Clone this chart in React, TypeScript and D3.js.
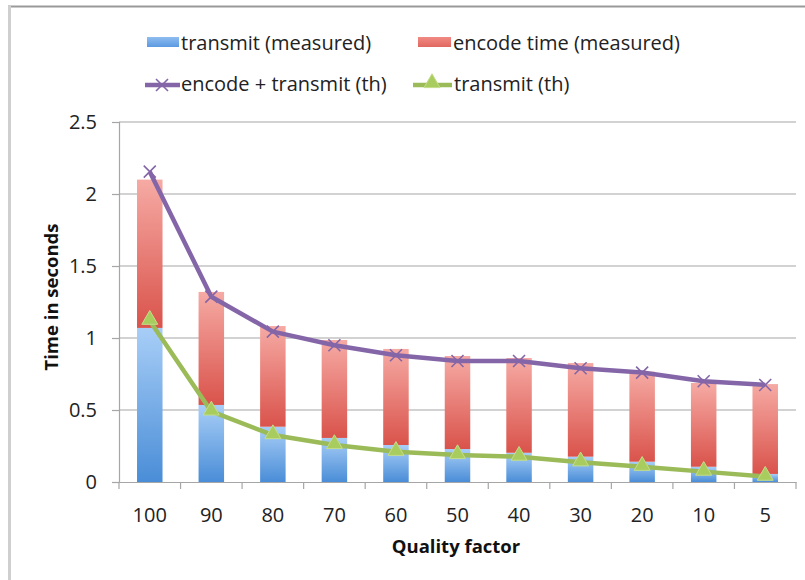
import React, { useEffect, useRef } from 'react';
import * as d3 from 'd3';

// values
const categories = ['100', '90', '80', '70', '60', '50', '40', '30', '20', '10', '5'];
const transmitMeasured = [1.07, 0.535, 0.384, 0.306, 0.257, 0.229, 0.203, 0.176, 0.141, 0.106, 0.056];
const totalMeasured = [2.1, 1.32, 1.083, 0.986, 0.924, 0.875, 0.861, 0.826, 0.766, 0.6875, 0.68];
const encodeMeasured = totalMeasured.map((t, i) => t - transmitMeasured[i]);
const encodeTransmitTh = [2.155, 1.287, 1.044, 0.95, 0.88, 0.84, 0.84, 0.79, 0.76, 0.7, 0.674];
const transmitTh = [1.12, 0.49, 0.326, 0.257, 0.21, 0.1875, 0.176, 0.137, 0.106, 0.072, 0.037];
const yTicks = [0, 0.5, 1, 1.5, 2, 2.5];

const FONT = '"Open Sans", "Noto Sans", sans-serif';
const PURPLE = '#8466a8';
const GREEN = '#9bbb59';

function App() {
  const ref = useRef<SVGSVGElement>(null);

  useEffect(() => {
    drawChart();
  }, []);

  function drawChart() {
    const svg = d3.select(ref.current);
    svg.selectAll('*').remove();

    const left = 119, right = 796, top = 122, bottom = 482;

    const defs = svg.append('defs');
    const grad = (id: string, c1: string, c2: string) => {
      const g = defs.append('linearGradient').attr('id', id)
        .attr('x1', 0).attr('y1', 0).attr('x2', 0).attr('y2', 1);
      g.append('stop').attr('offset', '0%').attr('stop-color', c1);
      g.append('stop').attr('offset', '100%').attr('stop-color', c2);
    };
    grad('blueGrad', '#a8cef7', '#4a8dd7');
    grad('redGrad', '#f6aaa4', '#d9534b');
    grad('blueLeg', '#8fbdf0', '#5b9ae0');
    grad('redLeg', '#f08a84', '#e06861');

    // frame
    svg.append('line').attr('x1', 8).attr('x2', 805).attr('y1', 6.5).attr('y2', 6.5)
      .attr('stroke', '#9a9a9a').attr('stroke-width', 2);
    svg.append('line').attr('x1', 9.5).attr('x2', 9.5).attr('y1', 6).attr('y2', 580)
      .attr('stroke', '#cfcfcf').attr('stroke-width', 3);

    const xScale = d3.scaleBand().domain(categories).range([left, right]);
    const yScale = d3.scaleLinear().domain([0, 2.5]).range([bottom, top]);

    // gridlines
    svg.append('g').selectAll('line').data(yTicks.filter(t => t > 0)).enter()
      .append('line')
      .attr('x1', left).attr('x2', right)
      .attr('y1', d => yScale(d)).attr('y2', d => yScale(d))
      .attr('stroke', '#a6a6a6').attr('stroke-width', 1.2);

    // bars
    const bw = 25.5;
    const bx = (d: string) => xScale(d)! + xScale.bandwidth() / 2 - bw / 2;
    const bars = svg.append('g');
    bars.selectAll('.blue').data(categories).enter().append('rect')
      .attr('x', bx)
      .attr('width', bw)
      .attr('y', (d, i) => yScale(transmitMeasured[i]))
      .attr('height', (d, i) => yScale(0) - yScale(transmitMeasured[i]))
      .attr('fill', 'url(#blueGrad)');
    bars.selectAll('.red').data(categories).enter().append('rect')
      .attr('x', bx)
      .attr('width', bw)
      .attr('y', (d, i) => yScale(transmitMeasured[i] + encodeMeasured[i]))
      .attr('height', (d, i) => yScale(transmitMeasured[i]) - yScale(transmitMeasured[i] + encodeMeasured[i]))
      .attr('fill', 'url(#redGrad)');

    // axes
    const yAxis = svg.append('g').attr('transform', `translate(${left},0)`)
      .call(d3.axisLeft(yScale).tickValues(yTicks).tickSize(7).tickPadding(15).tickFormat(d => String(d)));
    yAxis.select('.domain').attr('stroke', '#a6a6a6').attr('stroke-width', 1.2);
    yAxis.selectAll('.tick line').attr('stroke', '#a6a6a6').attr('stroke-width', 1.2);
    yAxis.selectAll('text').style('font-family', FONT).style('font-size', '20px').attr('fill', '#222');

    const xAxis = svg.append('g').attr('transform', `translate(0,${bottom})`)
      .call(d3.axisBottom(xScale).tickSize(0));
    xAxis.select('.domain').attr('stroke', '#a6a6a6').attr('stroke-width', 1.2);
    xAxis.selectAll('text').attr('y', 40).attr('dy', 0)
      .style('font-family', FONT).style('font-size', '20px').attr('fill', '#222');
    // tick marks between categories
    const edges = categories.map(c => xScale(c)!).concat([right]);
    xAxis.selectAll('.sep').data(edges).enter().append('line')
      .attr('x1', d => d).attr('x2', d => d).attr('y1', 0).attr('y2', 7)
      .attr('stroke', '#a6a6a6').attr('stroke-width', 1.2);

    const cx = (i: number) => xScale(categories[i])! + xScale.bandwidth() / 2;
    const line = (vals: number[]) => d3.line<number>()
      .x((d, i) => cx(i)).y(d => yScale(d))(vals);

    // encode + transmit (th)
    svg.append('path').attr('d', line(encodeTransmitTh)).attr('fill', 'none')
      .attr('stroke', PURPLE).attr('stroke-width', 4.5).attr('stroke-linejoin', 'round');
    svg.append('g').selectAll('path').data(encodeTransmitTh).enter().append('path')
      .attr('d', (d, i) => {
        const x = cx(i), y = yScale(d), s = 6;
        return `M${x - s},${y - s}L${x + s},${y + s}M${x - s},${y + s}L${x + s},${y - s}`;
      })
      .attr('stroke', PURPLE).attr('stroke-width', 1.6);

    // transmit (th)
    svg.append('path').attr('d', line(transmitTh)).attr('fill', 'none')
      .attr('stroke', GREEN).attr('stroke-width', 4.5).attr('stroke-linejoin', 'round');
    const tri = d3.symbol().type(d3.symbolTriangle).size(110);
    svg.append('g').selectAll('path').data(transmitTh).enter().append('path')
      .attr('d', tri)
      .attr('transform', (d, i) => `translate(${cx(i)},${yScale(d) - 1})`)
      .attr('fill', '#a9cc5e').attr('stroke', '#c4dd8a').attr('stroke-width', 1);

    // axis titles
    svg.append('text')
      .attr('transform', 'rotate(-90)')
      .attr('x', -297).attr('y', 58)
      .attr('text-anchor', 'middle')
      .style('font-family', FONT).style('font-size', '18.5px').style('font-weight', 'bold')
      .attr('fill', '#111')
      .text('Time in seconds');
    svg.append('text')
      .attr('x', 456).attr('y', 553)
      .attr('text-anchor', 'middle')
      .style('font-family', FONT).style('font-size', '18.5px').style('font-weight', 'bold')
      .attr('fill', '#111')
      .text('Quality factor');

    // legend
    const legend = svg.append('g').style('font-family', FONT).style('font-size', '20px').attr('fill', '#222');
    legend.append('rect').attr('x', 147).attr('y', 37).attr('width', 32).attr('height', 10).attr('fill', 'url(#blueLeg)');
    legend.append('text').attr('x', 181).attr('y', 50).text('transmit (measured)');
    legend.append('rect').attr('x', 418).attr('y', 37).attr('width', 33).attr('height', 10).attr('fill', 'url(#redLeg)');
    legend.append('text').attr('x', 453).attr('y', 50).text('encode time (measured)');

    legend.append('line').attr('x1', 145).attr('x2', 180).attr('y1', 85).attr('y2', 85)
      .attr('stroke', PURPLE).attr('stroke-width', 4.5);
    legend.append('path').attr('d', 'M156,79L168,91M156,91L168,79').attr('stroke', PURPLE).attr('stroke-width', 1.6);
    legend.append('text').attr('x', 181).attr('y', 91).text('encode + transmit (th)');
    legend.append('line').attr('x1', 413).attr('x2', 452).attr('y1', 85).attr('y2', 85)
      .attr('stroke', GREEN).attr('stroke-width', 4.5);
    legend.append('path').attr('d', tri).attr('transform', 'translate(432,83)')
      .attr('fill', '#a9cc5e').attr('stroke', '#c4dd8a').attr('stroke-width', 1);
    legend.append('text').attr('x', 454).attr('y', 91).text('transmit (th)');
  }

  return (
    <svg ref={ref} width={805} height={580}
      style={{ position: 'absolute', left: 0, top: 0, background: '#fff' }} />
  );
}

export default App;
